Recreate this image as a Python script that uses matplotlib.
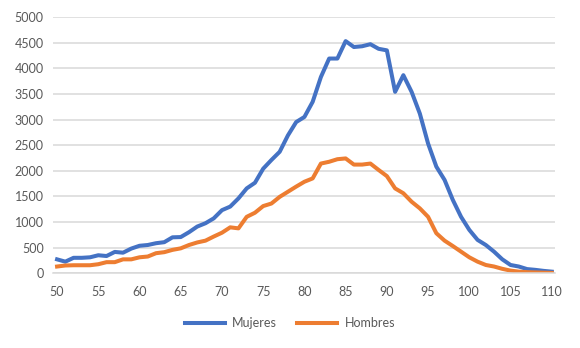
import numpy as np
import matplotlib
matplotlib.use("Agg")
from matplotlib import pyplot as plt

plt.rcParams['font.family'] = ['Lato', 'DejaVu Sans']

edad = list(range(50, 111))

mujeres = [270, 225, 300, 300, 310, 350, 335, 415, 400, 480,
           535, 550, 585, 605, 700, 705, 800, 910, 975, 1070,
           1230, 1300, 1460, 1655, 1765, 2040, 2210, 2370, 2690, 2950,
           3050, 3345, 3830, 4190, 4190, 4530, 4415, 4430, 4470, 4380,
           4350, 3540, 3865, 3540, 3115, 2530, 2080, 1820, 1430, 1100,
           845, 650, 550, 420, 270, 160, 130, 80, 65, 45,
           30]

hombres = [130, 150, 155, 155, 155, 175, 215, 215, 270, 270,
           310, 325, 390, 410, 455, 485, 550, 600, 635, 715,
           790, 895, 875, 1100, 1180, 1310, 1360, 1490, 1590, 1690,
           1785, 1850, 2140, 2175, 2225, 2240, 2120, 2120, 2140, 2015,
           1895, 1655, 1560, 1395, 1265, 1100, 780, 635, 530, 420,
           310, 225, 160, 130, 85, 50, 30, 20, 15, 10,
           5]

azul = '#4472C4'
naranja = '#ED7D31'
gris = '#595959'

fig = plt.figure(figsize=(5.8, 3.48), dpi=100)
ax = fig.add_axes([0.092, 0.215, 0.865, 0.736])

ax.plot(edad, mujeres, color=azul, lw=2.9, label='Mujeres', solid_joinstyle='round')
ax.plot(edad, hombres, color=naranja, lw=2.9, label='Hombres', solid_joinstyle='round')

ax.set_xlim(49.55, 110.4)
ax.set_ylim(0, 5000)
ax.set_xticks(range(50, 111, 5))
ax.set_yticks(range(0, 5001, 500))
ax.grid(axis='y', color='#D9D9D9', lw=1.1)
ax.set_axisbelow(True)
for s in ['top', 'right', 'left']:
    ax.spines[s].set_visible(False)
ax.spines['bottom'].set_color('#D9D9D9')
ax.spines['bottom'].set_linewidth(1.1)
ax.tick_params(length=0, labelsize=9, labelcolor=gris)
ax.tick_params(axis='x', pad=9)
ax.tick_params(axis='y', pad=7)

fig.legend(loc='center', bbox_to_anchor=(0.5, 0.072), ncol=2, frameon=False,
           fontsize=9, labelcolor=gris, handlelength=3.2, columnspacing=1.6,
           handletextpad=0.6)

fig.savefig('out.png', dpi=100)
